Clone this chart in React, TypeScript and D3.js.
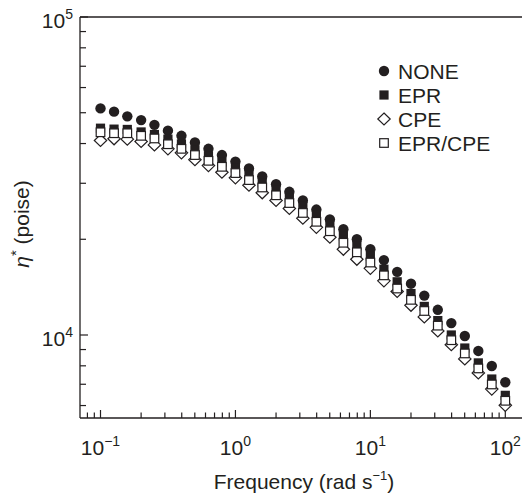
import React from 'react';
import * as d3 from 'd3';

// frequency (rad/s), 10 points per decade
const freq = [0.1, 0.126, 0.158, 0.2, 0.251, 0.316, 0.398, 0.501, 0.631, 0.794,
  1, 1.26, 1.58, 2, 2.51, 3.16, 3.98, 5.01, 6.31, 7.94,
  10, 12.6, 15.8, 20, 25.1, 31.6, 39.8, 50.1, 63.1, 79.4, 100];

// complex viscosity (poise)
const none = [51600, 50400, 48700, 47400, 45800, 43900, 42300, 40300, 38500, 36800,
  35100, 33400, 31500, 29800, 28200, 26500, 24800, 23100, 21500, 20000,
  18600, 17200, 15800, 14500, 13300, 12000, 10900, 9930, 8910, 7990, 7100];
const epr = [44700, 44400, 44300, 43500, 42700, 41300, 39900, 38200, 36600, 35000,
  33500, 31900, 30100, 28500, 27000, 25400, 23800, 22200, 20500, 19100,
  17700, 16100, 14700, 13500, 12300, 11100, 10000, 9100, 8170, 7270, 6460];
const cpe = [40900, 41400, 41300, 40600, 39600, 38500, 37400, 35600, 34100, 32500,
  31200, 29600, 28000, 26500, 25000, 23300, 21800, 20300, 18600, 17300,
  16200, 14800, 13700, 12400, 11400, 10300, 9320, 8410, 7600, 6760, 6010];
const eprCpe = [43400, 43100, 43100, 42300, 41500, 39800, 38500, 36800, 35300, 33800,
  32300, 30700, 29100, 27500, 26000, 24200, 22700, 21200, 19500, 18200,
  16900, 15400, 14000, 12900, 11900, 10700, 9630, 8750, 7850, 6990, 6210];

const legendNames = ['NONE', 'EPR', 'CPE', 'EPR/CPE'];

const xMajor = [0.1, 1, 10, 100];
const xMajorExp = ['−1', '0', '1', '2'];
const xMinor = [0.08, 0.09, 0.2, 0.3, 0.4, 0.5, 0.6, 0.7, 0.8, 0.9,
  2, 3, 4, 5, 6, 7, 8, 9, 20, 30, 40, 50, 60, 70, 80, 90];
const yMajor = [10000, 100000];
const yMajorExp = ['4', '5'];
const yMinor = [6000, 7000, 8000, 9000, 20000, 30000, 40000, 50000, 60000, 70000, 80000, 90000];

const W = 522;
const H = 495;
const left = 80;
const right = 522;
const top = 17;
const bottom = 418;
const ink = '#231f20';
const font = '"Liberation Sans", Arial, Helvetica, sans-serif';
const fs = 21;
const sup = 14;

const x = d3.scaleLog().domain([0.1, 100]).range([100.5, 505.3]);
const y = d3.scaleLog().domain([10000, 100000]).range([335, 17]);

const Marker = ({ kind, cx, cy }: { kind: string; cx: number; cy: number }) => {
  if (kind === 'NONE') return <circle cx={cx} cy={cy} r={5.2} fill={ink} />;
  if (kind === 'EPR') return <rect x={cx - 4.6} y={cy - 4.6} width={9.2} height={9.2} fill={ink} />;
  if (kind === 'CPE') {
    const p = d3.path();
    p.moveTo(cx, cy - 6);
    p.lineTo(cx + 6.2, cy);
    p.lineTo(cx, cy + 6);
    p.lineTo(cx - 6.2, cy);
    p.closePath();
    return <path d={p.toString()} fill="#fff" stroke={ink} strokeWidth={1.2} />;
  }
  return <rect x={cx - 4.3} y={cy - 4.3} width={8.6} height={8.6} fill="#fff" stroke={ink} strokeWidth={1.2} />;
};

export default function App() {
  // drawing order: circles, filled squares, diamonds, open squares on top
  const series = [
    { name: 'NONE', values: none },
    { name: 'EPR', values: epr },
    { name: 'CPE', values: cpe },
    { name: 'EPR/CPE', values: eprCpe },
  ];

  return (
    <svg width={W} height={H} style={{ position: 'absolute', left: 0, top: 0, background: '#fff' }}
      fontFamily={font}>
      {/* frame */}
      <line x1={left} x2={right} y1={top} y2={top} stroke={ink} strokeWidth={1.3} />
      <line x1={left} x2={left} y1={top} y2={bottom} stroke={ink} strokeWidth={1.3} />
      <line x1={left} x2={right} y1={bottom} y2={bottom} stroke={ink} strokeWidth={1.3} />

      {/* x ticks */}
      {xMajor.map((v, i) => (
        <g key={'xm' + v}>
          <line x1={x(v)} x2={x(v)} y1={bottom} y2={bottom - 8} stroke={ink} strokeWidth={1.2} />
          <text x={x(v)} y={455} textAnchor="middle" fontSize={fs} fill={ink}>
            10<tspan dy={-9} fontSize={sup}>{xMajorExp[i]}</tspan>
          </text>
        </g>
      ))}
      {xMinor.map(v => (
        <line key={'xn' + v} x1={x(v)} x2={x(v)} y1={bottom} y2={bottom - 5.5} stroke={ink} strokeWidth={1.2} />
      ))}

      {/* y ticks */}
      {yMajor.map((v, i) => (
        <g key={'ym' + v}>
          <line x1={left} x2={left + 8} y1={y(v)} y2={y(v)} stroke={ink} strokeWidth={1.2} />
          <text x={73} y={y(v) + 10.5} textAnchor="end" fontSize={fs} fill={ink}>
            10<tspan dy={-9} fontSize={sup}>{yMajorExp[i]}</tspan>
          </text>
        </g>
      ))}
      {yMinor.map(v => (
        <line key={'yn' + v} x1={left} x2={left + 6} y1={y(v)} y2={y(v)} stroke={ink} strokeWidth={1.2} />
      ))}

      {/* axis titles */}
      <text x={304} y={489} textAnchor="middle" fontSize={fs} fill={ink}>
        Frequency (rad s<tspan dy={-9} fontSize={13}>−1</tspan><tspan dy={9}>)</tspan>
      </text>
      <text transform="translate(29,224) rotate(-90)" textAnchor="middle" fontSize={fs} fill={ink}>
        <tspan fontStyle="italic">η</tspan><tspan dy={-8} fontSize={15}>*</tspan>
        <tspan dy={8}> (poise)</tspan>
      </text>

      {/* data */}
      {series.map(s => (
        <g key={s.name}>
          {s.values.map((v, i) => (
            <Marker key={i} kind={s.name} cx={x(freq[i])} cy={y(v)} />
          ))}
        </g>
      ))}

      {/* legend */}
      {legendNames.map((name, i) => {
        const ly = 71 + i * 24;
        return (
          <g key={'lg' + name}>
            <Marker kind={name} cx={384} cy={ly} />
            <text x={398} y={ly + 7.5} fontSize={fs} fill={ink}>{name}</text>
          </g>
        );
      })}
    </svg>
  );
}
